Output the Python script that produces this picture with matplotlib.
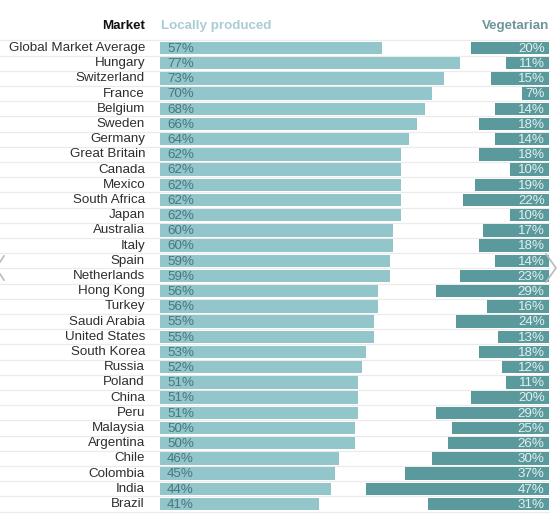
import matplotlib.pyplot as plt
from matplotlib.lines import Line2D

markets = ["Global Market Average", "Hungary", "Switzerland", "France", "Belgium",
           "Sweden", "Germany", "Great Britain", "Canada", "Mexico", "South Africa",
           "Japan", "Australia", "Italy", "Spain", "Netherlands", "Hong Kong", "Turkey",
           "Saudi Arabia", "United States", "South Korea", "Russia", "Poland", "China",
           "Peru", "Malaysia", "Argentina", "Chile", "Colombia", "India", "Brazil"]
local = [57, 77, 73, 70, 68, 66, 64, 62, 62, 62, 62, 62, 60, 60, 59, 59, 56, 56,
         55, 55, 53, 52, 51, 51, 51, 50, 50, 46, 45, 44, 41]
veg = [20, 11, 15, 7, 14, 18, 14, 18, 10, 19, 22, 10, 17, 18, 14, 23, 29, 16,
       24, 13, 18, 12, 11, 20, 29, 25, 26, 30, 37, 47, 31]

plt.rcParams['font.family'] = ['Liberation Sans', 'DejaVu Sans']

W, H = 560, 516
fig = plt.figure(figsize=(W / 100, H / 100), dpi=100)
ax = fig.add_axes([0, 0, 1, 1])

# pixel layout: 0% at x=160px, 100% at x=549px, rows 15.2px apart starting at 48px
px = 3.89
x0 = 160
row0 = 48
step = 15.2
ax.set_xlim(-x0 / px, 100 + (W - 549) / px)
ax.set_ylim((H - row0) / step, -row0 / step)
ax.axis('off')

n = len(markets)
ys = list(range(n))

# separators
xl, xr = ax.get_xlim()
for i in range(-1, n):
    ax.plot([xl, 100], [i + 0.5, i + 0.5], color='#ebebeb', lw=0.9, zorder=0)

ax.barh(ys, local, left=0, height=0.82, color='#93c6ca', zorder=2)
ax.barh(ys, veg, left=[100 - v for v in veg], height=0.82, color='#5a9a9c', zorder=2)

lab_x = -15 / px
for i in range(n):
    ax.text(lab_x, i, markets[i], ha='right', va='center', fontsize=9.6,
            color='#2e2e2e')
    ax.text(1.8, i + 0.05, f"{local[i]}%", ha='left', va='center', fontsize=9.6,
            color='#477780', zorder=3)
    ax.text(98.9, i + 0.05, f"{veg[i]}%", ha='right', va='center', fontsize=9.6,
            color='#e3efef', zorder=3)

ax.text(lab_x, -1.45, "Market", ha='right', va='center', fontsize=9.6,
        fontweight='bold', color='#111111')
ax.text(0.2, -1.45, "Locally produced", ha='left', va='center', fontsize=9.6,
        fontweight='bold', color='#a9cdd3')
ax.text(100, -1.45, "Vegetarian", ha='right', va='center', fontsize=9.6,
        fontweight='bold', color='#6e959b')

# carousel chevrons
fig.add_artist(Line2D([546 / W, 556 / W, 546 / W], [1 - 254 / H, 1 - 268 / H, 1 - 282 / H],
                      color='#bbbbbb', lw=1.2))
fig.add_artist(Line2D([4 / W, -4 / W, 4 / W], [1 - 256 / H, 1 - 268 / H, 1 - 280 / H],
                      color='#bbbbbb', lw=1.2))

fig.savefig("out.png", dpi=100)
